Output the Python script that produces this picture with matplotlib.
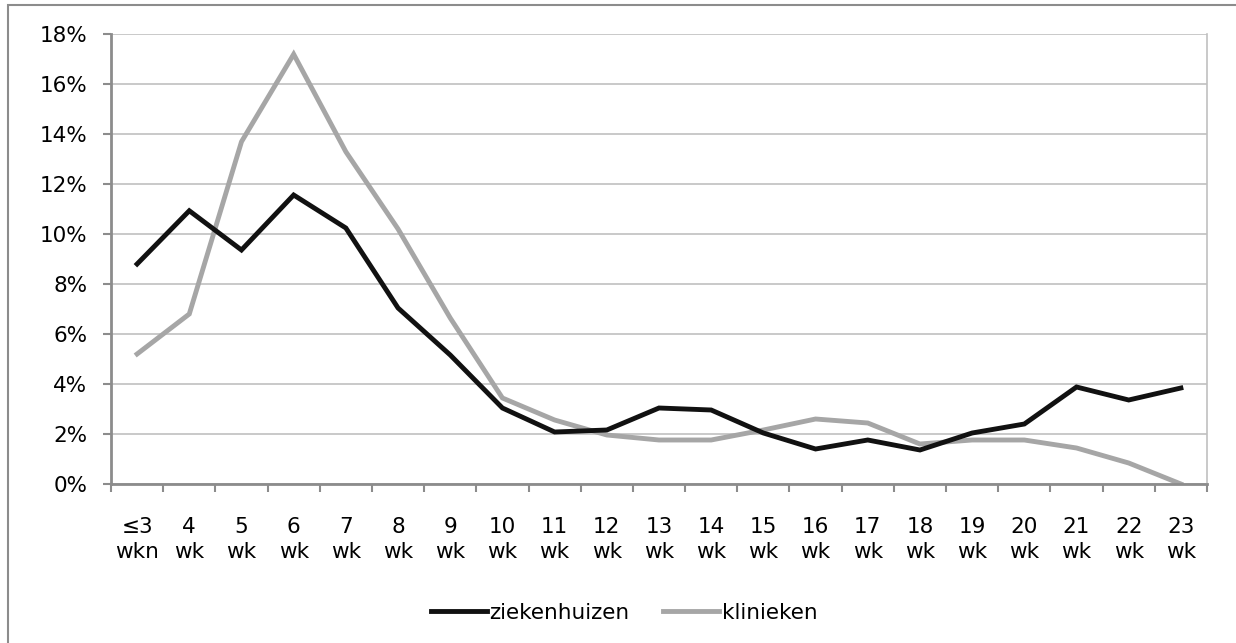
import matplotlib.pyplot as plt
from matplotlib.patches import Rectangle
from matplotlib.ticker import FixedLocator, PercentFormatter

categories = ['≤3\nwkn'] + [f'{w}\nwk' for w in range(4, 24)]
ziekenhuizen = [8.8, 10.93, 9.36, 11.56, 10.24, 7.04, 5.16, 3.04, 2.08, 2.16, 3.04,
                2.96, 2.04, 1.4, 1.76, 1.36, 2.04, 2.4, 3.88, 3.36, 3.84]
klinieken = [5.2, 6.8, 13.69, 17.19, 13.29, 10.2, 6.64, 3.44, 2.56, 1.96, 1.76,
             1.76, 2.16, 2.6, 2.44, 1.6, 1.76, 1.76, 1.44, 0.84, 0.0]

plt.rcParams['font.family'] = 'DejaVu Sans'
fs = 15.5

fig = plt.figure(figsize=(12.36, 6.43), dpi=100)
ax = fig.add_axes([111 / 1236, 1 - 484 / 643, (1207 - 111) / 1236, (484 - 34) / 643])

# outer chart border
fig.patches.append(Rectangle((8 / 1236, -0.05), 1.1, 1 - 5 / 643 + 0.05,
                             transform=fig.transFigure, fill=False,
                             edgecolor='#8c8c8c', linewidth=1.5))

x = list(range(len(categories)))
ax.plot(x, ziekenhuizen, color='#111111', linewidth=3.5, label='ziekenhuizen',
        solid_joinstyle='miter', zorder=3)
ax.plot(x, klinieken, color='#a6a6a6', linewidth=3.5, label='klinieken',
        solid_joinstyle='miter', zorder=2)

ax.set_xlim(-0.5, len(categories) - 0.5)
ax.set_ylim(0, 18)
ax.set_yticks(range(0, 19, 2))
ax.yaxis.set_major_formatter(PercentFormatter(decimals=0))
ax.yaxis.grid(True, color='#c0c0c0', linewidth=1.2)
ax.set_axisbelow(True)

ax.set_xticks(x)
ax.set_xticklabels(categories, fontsize=fs, linespacing=1.3)
ax.xaxis.set_minor_locator(FixedLocator([i - 0.5 for i in range(len(categories) + 1)]))
ax.tick_params(axis='x', which='major', length=0, pad=24)
ax.tick_params(axis='x', which='minor', length=6, width=1.5, color='#8c8c8c', direction='out')
ax.tick_params(axis='y', length=6, width=1.5, color='#8c8c8c', labelsize=fs, pad=11)

ax.spines['top'].set_visible(False)
ax.spines['right'].set_color('#c0c0c0')
ax.spines['right'].set_linewidth(1.2)
for side in ['left', 'bottom']:
    ax.spines[side].set_color('#8c8c8c')
    ax.spines[side].set_linewidth(2)

ax.legend(loc='center', bbox_to_anchor=(624 / 1236, 1 - 613 / 643),
          bbox_transform=fig.transFigure, ncol=2, frameon=False, fontsize=fs,
          handlelength=2.6, handletextpad=0.1, columnspacing=1.6)

fig.savefig('out.png', dpi=100)
